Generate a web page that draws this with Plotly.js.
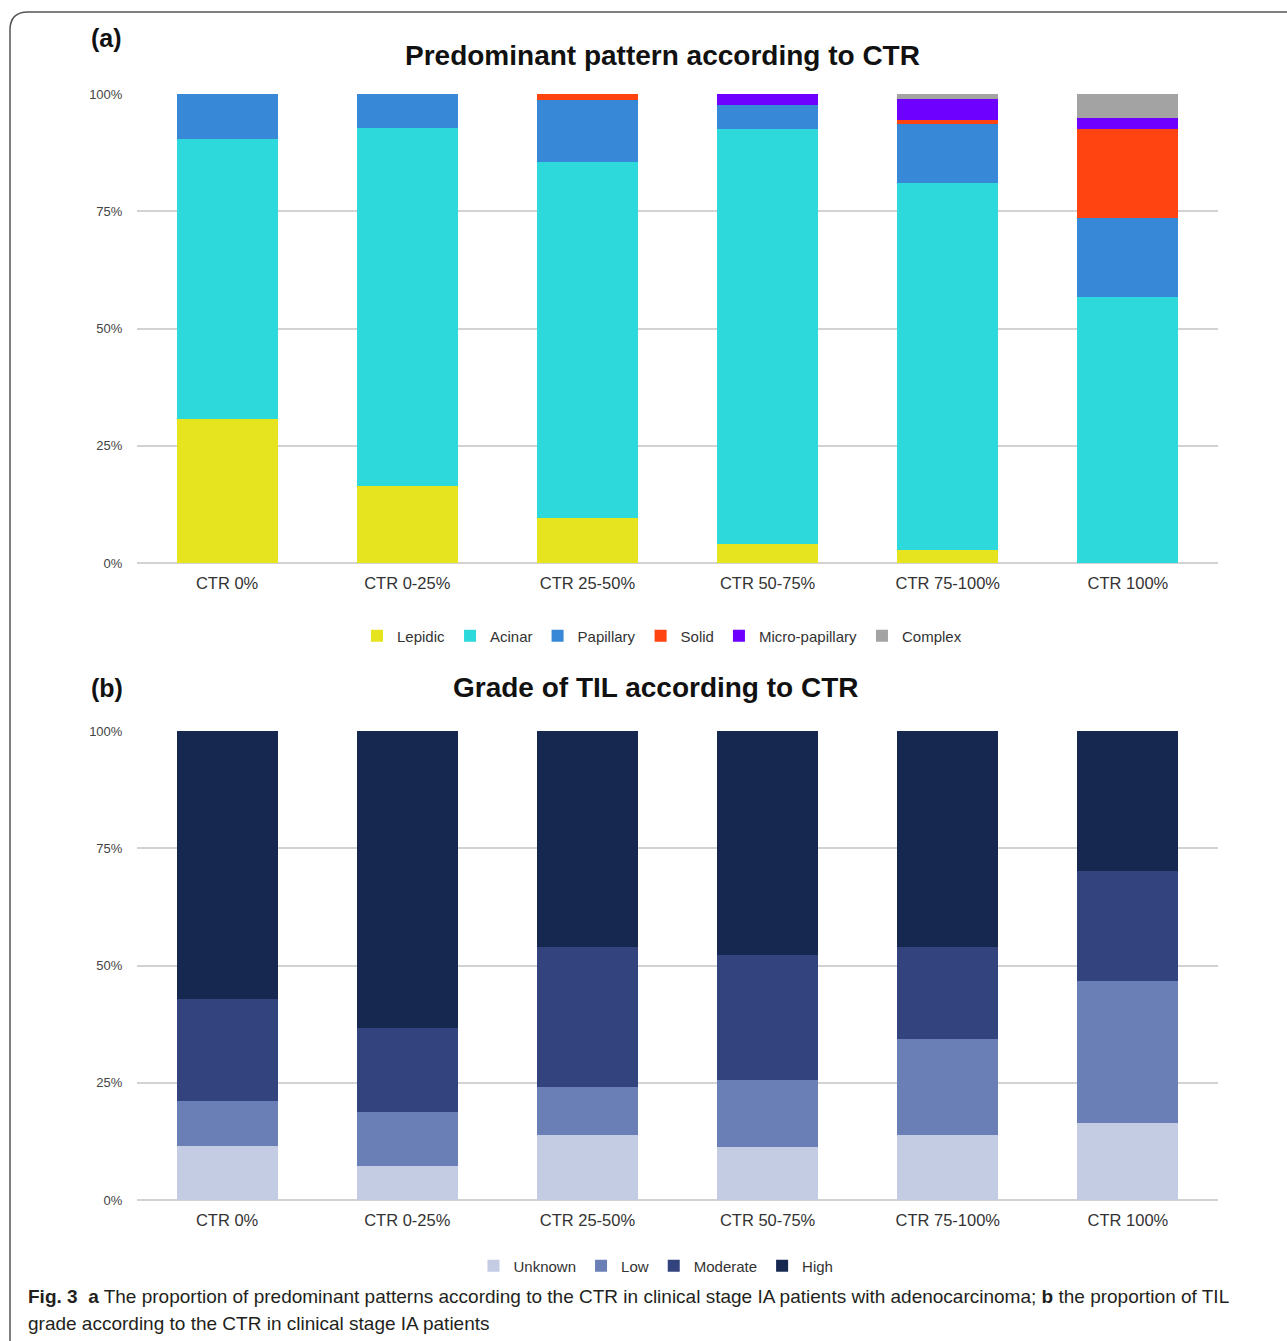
<!DOCTYPE html>
<html>
<head>
<meta charset="utf-8">
<script src="https://cdn.plot.ly/plotly-3.0.1.min.js"></script>
<style>
  html, body { margin: 0; padding: 0; background: #ffffff; }
  #fig { width: 1287px; height: 1341px; }
</style>
</head>
<body>
<div id="fig"></div>
<script>
// Categories shared by both panels
const categories = ['CTR 0%', 'CTR 0-25%', 'CTR 25-50%', 'CTR 50-75%', 'CTR 75-100%', 'CTR 100%'];

// (a) predominant pattern, % of patients
const lepidic        = [30.8, 16.5,  9.5,  4.0,  2.8,  0.0];
const acinar         = [59.6, 76.2, 76.1, 88.6, 78.3, 56.7];
const papillary      = [ 9.6,  7.3, 13.1,  5.0, 12.4, 16.9];
const solid          = [ 0.0,  0.0,  1.3,  0.0,  0.9, 18.9];
const micropapillary = [ 0.0,  0.0,  0.0,  2.4,  4.5,  2.3];
const complex        = [ 0.0,  0.0,  0.0,  0.0,  1.1,  5.2];

// (b) grade of TIL, % of patients
const unknown  = [11.5,  7.2, 13.8, 11.2, 13.8, 16.5];
const low      = [ 9.6, 11.6, 10.2, 14.4, 20.5, 30.3];
const moderate = [21.7, 17.8, 29.9, 26.6, 19.6, 23.3];
const high     = [57.2, 63.4, 46.1, 47.8, 46.1, 29.9];

// y-axis ticks
const tickValues = [0, 25, 50, 75, 100];
const tickLabels = ['0%', '25%', '50%', '75%', '100%'];

const W = 1287, H = 1341;
const px = x => x / W;
const py = y => 1 - y / H;

const fontMain = 'Liberation Sans, Arial, Helvetica, sans-serif';

function bar(name, y, color, xa, ya, legend) {
  return {
    type: 'bar', name: name, x: categories, y: y,
    xaxis: xa, yaxis: ya, legend: legend,
    marker: { color: color, line: { width: 0 } },
    width: 0.56, hoverinfo: 'name+y'
  };
}

const traces = [
  bar('Lepidic', lepidic, '#e6e41f', 'x', 'y', 'legend'),
  bar('Acinar', acinar, '#2ed9dc', 'x', 'y', 'legend'),
  bar('Papillary', papillary, '#3789d8', 'x', 'y', 'legend'),
  bar('Solid', solid, '#ff4411', 'x', 'y', 'legend'),
  bar('Micro-papillary', micropapillary, '#6e00ff', 'x', 'y', 'legend'),
  bar('Complex', complex, '#a3a3a3', 'x', 'y', 'legend'),
  bar('Unknown', unknown, '#c3cce3', 'x2', 'y2', 'legend2'),
  bar('Low', low, '#6a7fb6', 'x2', 'y2', 'legend2'),
  bar('Moderate', moderate, '#33437d', 'x2', 'y2', 'legend2'),
  bar('High', high, '#172850', 'x2', 'y2', 'legend2')
];

const xDomain = [px(137), px(1218)];

function xAxis(anchor) {
  return {
    domain: xDomain, anchor: anchor, type: 'category',
    showgrid: false, zeroline: false, showline: false,
    ticks: 'outside', ticklen: 5, tickcolor: 'rgba(0,0,0,0)',
    tickfont: { family: fontMain, size: 16.5, color: '#333333' },
    fixedrange: true
  };
}
function yAxis(anchor, top, bottom) {
  return {
    domain: [py(bottom), py(top)], anchor: anchor,
    range: [0, 100], tickvals: tickValues, ticktext: tickLabels,
    showgrid: true, gridcolor: '#d2d2d2', gridwidth: 2,
    zeroline: true, zerolinecolor: '#d2d2d2', zerolinewidth: 2,
    showline: false,
    ticks: 'outside', ticklen: 11, tickcolor: 'rgba(0,0,0,0)',
    tickfont: { family: fontMain, size: 13, color: '#444444' },
    fixedrange: true
  };
}

function legendAt(xc, yc) {
  return {
    orientation: 'h', x: px(xc), y: py(yc), xanchor: 'center', yanchor: 'middle',
    traceorder: 'normal', font: { family: fontMain, size: 15, color: '#333333' },
    bgcolor: 'rgba(0,0,0,0)', itemclick: false, itemdoubleclick: false
  };
}

const titleFont = { family: fontMain, size: 28, color: '#111111' };
const tagFont = { family: fontMain, size: 25, color: '#111111' };
const captionFont = { family: 'Liberation Sans, Arial, sans-serif', size: 19, color: '#231f20' };

const annotations = [
  { text: '<b>(a)</b>', x: px(89), y: py(38), xref: 'paper', yref: 'paper', xanchor: 'left', yanchor: 'middle', showarrow: false, font: tagFont },
  { text: '<b>Predominant pattern according to CTR</b>', x: px(662), y: py(55), xref: 'paper', yref: 'paper', xanchor: 'center', yanchor: 'middle', showarrow: false, font: titleFont },
  { text: '<b>(b)</b>', x: px(89), y: py(688), xref: 'paper', yref: 'paper', xanchor: 'left', yanchor: 'middle', showarrow: false, font: tagFont },
  { text: '<b>Grade of TIL according to CTR</b>', x: px(656), y: py(687), xref: 'paper', yref: 'paper', xanchor: 'center', yanchor: 'middle', showarrow: false, font: titleFont },
  { text: '<b>Fig. 3</b>  <b>a</b> The proportion of predominant patterns according to the CTR in clinical stage IA patients with adenocarcinoma; <b>b</b> the proportion of TIL',
    x: px(26), y: py(1296), xref: 'paper', yref: 'paper', xanchor: 'left', yanchor: 'middle', showarrow: false, font: captionFont },
  { text: 'grade according to the CTR in clinical stage IA patients',
    x: px(26), y: py(1323), xref: 'paper', yref: 'paper', xanchor: 'left', yanchor: 'middle', showarrow: false, font: captionFont }
];

// rounded frame around the figure panel
const r = 18;
const framePath = 'M ' + px(10) + ',' + py(H + 5) +
  ' L ' + px(10) + ',' + py(12 + r) +
  ' Q ' + px(10) + ',' + py(12) + ' ' + px(10 + r) + ',' + py(12) +
  ' L ' + px(W + 5) + ',' + py(12);

const layout = {
  width: W, height: H,
  margin: { l: 0, r: 0, t: 0, b: 0, pad: 0 },
  paper_bgcolor: '#ffffff', plot_bgcolor: 'rgba(0,0,0,0)',
  barmode: 'stack', bargap: 0.44,
  showlegend: true,
  xaxis: xAxis('y'),
  yaxis: yAxis('x', 94, 563),
  xaxis2: xAxis('y2'),
  yaxis2: yAxis('x2', 731, 1200),
  legend: legendAt(662, 636),
  legend2: legendAt(656, 1266),
  annotations: annotations,
  shapes: [
    { type: 'path', xref: 'paper', yref: 'paper', path: framePath, line: { color: '#555555', width: 1.5 } }
  ]
};

Plotly.newPlot('fig', traces, layout, { displayModeBar: false, staticPlot: true });
</script>
</body>
</html>
